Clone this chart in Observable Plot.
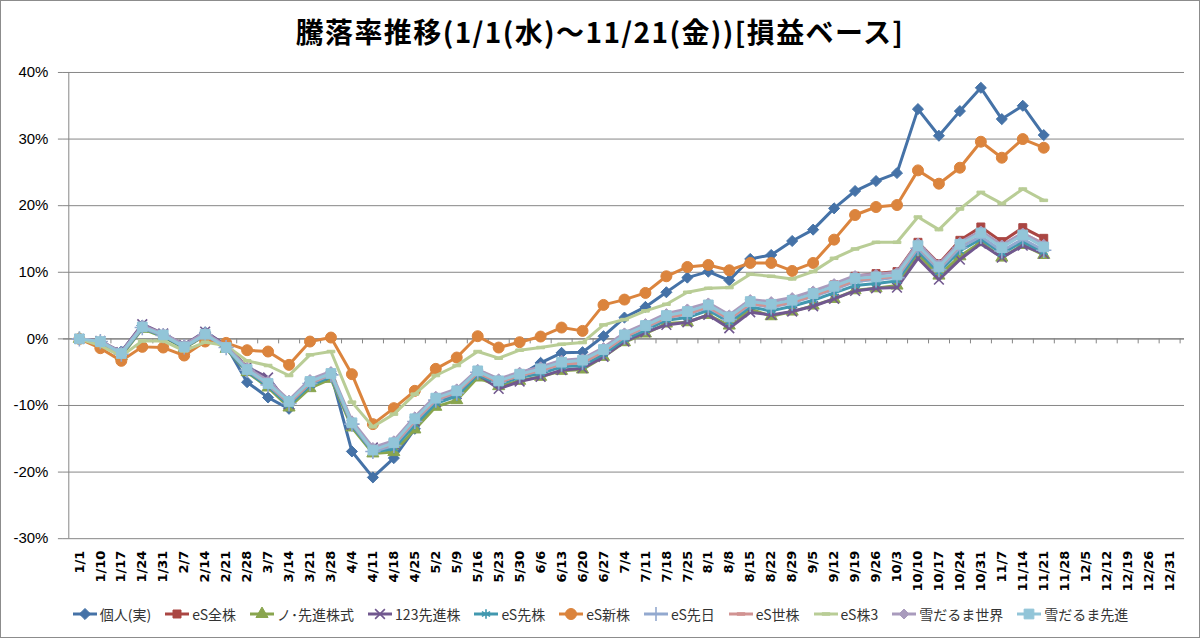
<!DOCTYPE html>
<html><head><meta charset="utf-8">
<script src="https://cdn.jsdelivr.net/npm/d3@7"></script>
<script src="https://cdn.jsdelivr.net/npm/@observablehq/plot@0.6"></script>
<style>
body{margin:0;background:#fff;}
#wrap{width:1200px;height:638px;box-sizing:border-box;border:1px solid #8c8c8c;overflow:hidden;font-family:"Noto Sans CJK JP",sans-serif;}
#title{height:56px;line-height:60px;text-align:center;font-size:28px;font-weight:700;color:#000;letter-spacing:1.4px;}
#chart{height:545px;}
#legend{display:flex;justify-content:center;align-items:center;gap:13px;height:24px;font-size:14px;color:#333;}
.item{display:flex;align-items:center;gap:2px;}
</style></head>
<body>
<div id="wrap">
<div id="title">騰落率推移(1/1(水)～11/21(金))[損益ベース]</div>
<div id="chart"></div>
<div id="legend"></div>
</div>
<script>
const dates = ["1/1","1/10","1/17","1/24","1/31","2/7","2/14","2/21","2/28","3/7","3/14","3/21","3/28","4/4","4/11","4/18","4/25","5/2","5/9","5/16","5/23","5/30","6/6","6/13","6/20","6/27","7/4","7/11","7/18","7/25","8/1","8/8","8/15","8/22","8/29","9/5","9/12","9/19","9/26","10/3","10/10","10/17","10/24","10/31","11/7","11/14","11/21","11/28","12/5","12/12","12/19","12/26","12/31"];
const yTicks = [-30,-20,-10,0,10,20,30,40];
const names = ["個人(実)","eS全株","ノ･先進株式","123先進株","eS先株","eS新株","eS先日","eS世株","eS株3","雪だるま世界","雪だるま先進"];

const kojin = [0,-0.5,-1.9,2.0,0.5,-1.0,1.0,-1.0,-6.5,-8.8,-10.5,-6.5,-5.2,-16.9,-20.8,-17.9,-13.5,-9.5,-8.0,-5.0,-6.5,-5.5,-3.6,-2.1,-2.0,0.4,3.2,4.8,7.0,9.2,10.1,8.8,12.0,12.6,14.7,16.4,19.6,22.2,23.7,24.9,34.5,30.5,34.2,37.7,33.0,35.0,30.6];
const esZen = [0,-0.4,-2.3,1.7,0.5,-1.1,0.6,-1.2,-4.8,-6.9,-9.6,-6.5,-5.3,-12.8,-16.8,-15.9,-12.2,-9.0,-8.0,-5.0,-6.4,-5.4,-4.6,-3.6,-3.3,-1.7,0.4,1.9,3.4,4.0,5.0,3.0,5.5,5.3,5.9,6.9,8.1,9.4,9.8,10.1,14.5,11.3,14.8,16.8,14.6,16.7,15.1];
const noSenshin = [0,-0.5,-2.6,1.5,0.3,-1.4,0.5,-1.5,-5.0,-7.3,-10.3,-7.4,-6.0,-13.3,-17.2,-17.0,-13.6,-10.2,-9.2,-5.8,-7.1,-6.3,-5.7,-4.8,-4.6,-2.7,-0.5,0.8,2.3,2.5,3.6,2.0,4.5,3.4,4.1,5.0,6.0,7.3,7.6,8.0,12.7,9.5,12.4,14.5,12.2,14.1,12.6];
const senshin123 = [0,-0.3,-2.0,2.2,0.8,-0.9,1.1,-1.0,-4.2,-5.8,-9.8,-6.6,-5.5,-12.9,-16.3,-15.8,-12.4,-9.5,-8.3,-5.3,-7.5,-6.4,-5.7,-4.7,-4.4,-2.7,-0.4,1.0,2.1,2.5,3.6,1.6,4.0,3.6,4.1,4.9,6.0,7.2,7.6,7.7,12.1,8.9,11.9,14.3,12.2,14.0,12.8];
const esSen = [0,-0.4,-2.4,1.6,0.4,-1.3,0.6,-1.4,-4.9,-7.1,-10.0,-7.0,-5.7,-13.0,-17.0,-16.5,-12.9,-9.7,-8.6,-5.4,-6.8,-5.8,-5.2,-4.2,-4.0,-2.3,-0.1,1.3,2.8,3.2,4.3,2.5,4.8,4.2,4.9,5.8,6.9,8.0,8.3,8.7,13.2,10.0,13.2,15.0,12.8,14.6,13.0];
const esShin = [0,-1.4,-3.3,-1.2,-1.3,-2.5,-0.4,-0.6,-1.7,-1.9,-3.9,-0.4,0.2,-5.3,-12.8,-10.4,-7.8,-4.5,-2.8,0.4,-1.3,-0.5,0.35,1.7,1.2,5.1,5.9,6.9,9.4,10.8,11.1,10.3,11.4,11.4,10.2,11.4,14.9,18.6,19.8,20.1,25.3,23.3,25.7,29.6,27.2,30.0,28.7];
const esSenNichi = [0,-0.4,-2.3,1.7,0.5,-1.2,0.6,-1.3,-4.7,-6.9,-9.7,-6.7,-5.4,-12.8,-16.9,-16.0,-12.4,-9.2,-8.1,-5.0,-6.5,-5.5,-4.8,-3.8,-3.5,-1.9,0.3,1.7,3.2,3.7,4.7,2.9,5.2,4.8,5.4,6.4,7.4,8.6,8.9,9.2,13.6,10.4,13.7,15.4,13.2,15.0,13.3];
const esSekai = [0,-0.4,-2.2,1.8,0.6,-1.1,0.7,-1.2,-4.6,-6.8,-9.6,-6.6,-5.3,-12.7,-16.6,-15.8,-12.3,-9.1,-8.0,-5.1,-6.5,-5.5,-4.7,-3.8,-3.6,-1.9,0.3,1.8,3.2,3.8,4.8,3.0,5.3,4.9,5.5,6.5,7.6,8.8,9.1,9.4,13.9,10.7,14.1,16.0,13.9,15.8,14.3];
const esKabu3 = [0,-1.0,-2.6,-0.3,-0.3,-1.8,-0.5,-1.0,-3.3,-4.0,-5.5,-2.4,-1.9,-9.5,-13.2,-11.3,-8.3,-5.5,-4.0,-1.9,-2.9,-1.7,-1.3,-0.8,-0.55,2.1,2.9,4.2,5.2,7.0,7.6,7.7,9.7,9.4,9.0,10.1,12.1,13.5,14.5,14.5,18.3,16.4,19.5,22.0,20.3,22.5,20.8];
const yukiSekai = [0,-0.3,-2.0,2.0,0.8,-0.9,0.9,-1.1,-4.3,-6.3,-9.2,-6.1,-4.9,-12.3,-16.3,-15.3,-11.7,-8.6,-7.5,-4.6,-6.0,-5.0,-4.2,-3.2,-3.0,-1.3,0.9,2.3,3.8,4.5,5.4,3.6,5.9,5.6,6.2,7.2,8.3,9.5,9.7,10.0,14.4,11.2,14.5,16.2,14.1,15.9,14.2];
const yukiSenshin = [0,-0.4,-2.2,1.8,0.6,-1.2,0.7,-1.3,-4.6,-6.7,-9.4,-6.4,-5.2,-12.6,-16.7,-15.6,-12.0,-8.9,-7.8,-4.8,-6.3,-5.3,-4.5,-3.5,-3.2,-1.6,0.6,2.0,3.5,4.1,5.1,3.3,5.6,5.2,5.8,6.8,7.9,9.1,9.3,9.6,14.0,10.8,14.2,15.9,13.7,15.6,13.8];

const seriesValues = [kojin, esZen, noSenshin, senshin123, esSen, esShin, esSenNichi, esSekai, esKabu3, yukiSekai, yukiSenshin];

// styles
const colors = ["#4572A7","#AA4643","#89A54E","#71588F","#4198AF","#DB843D","#93A9CF","#D19392","#B9CD96","#A99BBD","#92C5D8"];
const dash = {draw(ctx, size){ const w = Math.sqrt(size)*0.55, h = w*0.32; ctx.moveTo(-w,-h); ctx.lineTo(w,-h); ctx.lineTo(w,h); ctx.lineTo(-w,h); ctx.closePath(); }};
const symbols = ["diamond2","square","triangle","times","asterisk","circle","plus","dash","dash","diamond2","square"];
const radii = [5,4.5,4.5,4.5,4.5,5.5,5,4,4,4.5,5.5];
const strokeOnly = [false,false,false,true,true,false,true,false,false,false,false];
const symObj = s => s === "dash" ? dash : s;
const d3Sym = {diamond2: d3.symbolDiamond2, square: d3.symbolSquare, triangle: d3.symbolTriangle, times: d3.symbolTimes, asterisk: d3.symbolAsterisk, circle: d3.symbolCircle, plus: d3.symbolPlus, dash: dash};

const W = 1200, ML = 62, MR = 15, MT = 15, MB = 63, H = 545;
const half = (W - ML - MR) / dates.length / 2;
const grid = "#868686";

const marks = [
  Plot.gridY(yTicks, {stroke: grid, strokeOpacity: 1}),
  Plot.ruleY([0], {stroke: grid, strokeWidth: 1.2}),
  Plot.ruleX([dates[0]], {dx: -half, stroke: grid}),
  Plot.ruleX(dates, {x: d => d, y1: 0, y2: 0, dx: half, insetBottom: -5, stroke: grid}),
  Plot.axisY(yTicks, {tickSize: 5, tickPadding: 10, tickFormat: d => d + "%", stroke: grid, fill: "#000", fontSize: 15, fontFamily: "Liberation Sans, Arial, sans-serif"}),
  Plot.axisX({tickRotate: -90, tickSize: 0, tickPadding: 12, fontSize: 13, fontWeight: "bold", fill: "#000", fontFamily: "DejaVu Sans, sans-serif", label: null})
];

seriesValues.forEach((vals, i) => {
  const rows = vals.map((v, j) => ({date: dates[j], value: v}));
  marks.push(Plot.line(rows, {x: "date", y: "value", stroke: colors[i], strokeWidth: 3, strokeLinejoin: "round"}));
  marks.push(Plot.dot(rows, {
    x: "date", y: "value", symbol: symObj(symbols[i]), r: radii[i],
    fill: strokeOnly[i] ? "none" : colors[i],
    stroke: colors[i], strokeWidth: strokeOnly[i] ? 1.6 : 1
  }));
});

const chart = Plot.plot({
  width: W, height: H, marginLeft: ML, marginRight: MR, marginTop: MT, marginBottom: MB,
  x: {type: "point", domain: dates, padding: 0.5, label: null},
  y: {domain: [-30, 40], label: null},
  style: {background: "transparent", color: "#000", overflow: "visible"},
  marks
});
document.getElementById("chart").append(chart);

const legend = d3.select("#legend");
names.forEach((n, i) => {
  const item = legend.append("div").attr("class", "item");
  const svg = item.append("svg").attr("width", 26).attr("height", 14);
  svg.append("line").attr("x1", 1).attr("x2", 25).attr("y1", 7).attr("y2", 7)
    .attr("stroke", colors[i]).attr("stroke-width", 3);
  const r = radii[i];
  svg.append("path").attr("transform", "translate(13,7)")
    .attr("d", d3.symbol(d3Sym[symbols[i]], Math.PI * r * r)())
    .attr("fill", strokeOnly[i] ? "none" : colors[i])
    .attr("stroke", colors[i]).attr("stroke-width", strokeOnly[i] ? 1.6 : 1);
  item.append("span").text(n);
});
</script>
</body></html>
